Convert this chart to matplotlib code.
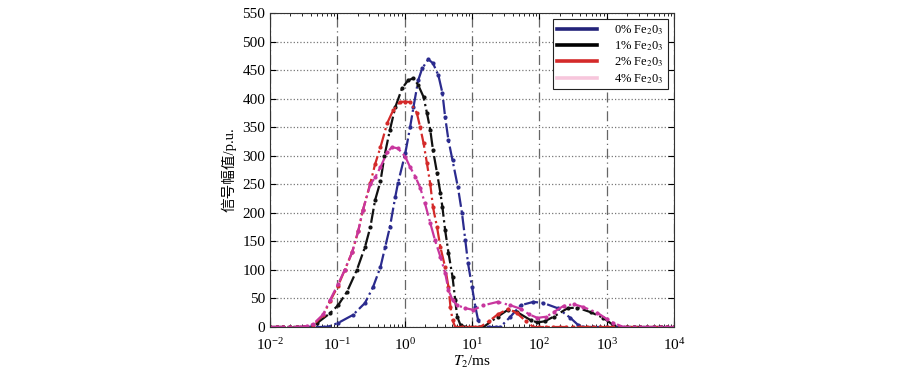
import numpy as np
import matplotlib
matplotlib.use("Agg")
import matplotlib.pyplot as plt
from matplotlib.lines import Line2D

plt.rcParams['font.family'] = ['Liberation Serif', 'Noto Sans CJK SC']
plt.rcParams['mathtext.fontset'] = 'stix'

# T2 readings as log10(ms), amplitudes in p.u.
lg_0 = [-2.0, -1.9, -1.8, -1.7, -1.6, -1.5, -1.4, -1.3, -1.2, -1.15, -0.99, -0.77, -0.59, -0.47,
        -0.36, -0.29, -0.22, -0.14, -0.10, 0.01, 0.08, 0.13, 0.20, 0.26, 0.35, 0.42, 0.50,
        0.56, 0.60, 0.65, 0.71, 0.79, 0.85, 0.90, 0.94, 1.00, 1.05, 1.09, 1.15, 1.25, 1.35,
        1.42, 1.57, 1.72, 1.91, 2.06, 2.27, 2.46, 2.58, 2.65, 2.8, 2.9, 3.0, 3.1, 3.2, 3.3,
        3.4, 3.5, 3.6, 3.7, 3.8, 3.9, 4.0]
amp_0 = [0, 0, 0, 0, 0, 0, 0, 0, 0, 0, 7, 21, 42, 70,
         105, 140, 175, 228, 252, 305, 350, 385, 432, 453, 469, 462, 441,
         410, 368, 327, 292, 245, 200, 152, 112, 70, 35, 12, 0, 0, 0,
         0, 18, 38, 44, 42, 33, 16, 3, 0, 0, 0, 0, 0, 0, 0,
         0, 0, 0, 0, 0, 0, 0]

lg_1 = [-2.0, -1.9, -1.8, -1.7, -1.6, -1.5, -1.45, -1.30, -1.11, -0.99, -0.86, -0.71, -0.59,
        -0.51, -0.44, -0.36, -0.30, -0.22, -0.14, -0.04, 0.05, 0.13, 0.20, 0.28, 0.33, 0.38,
        0.42, 0.48, 0.53, 0.56, 0.60, 0.65, 0.71, 0.75, 0.78, 0.83, 0.9, 1.0, 1.1, 1.17, 1.38,
        1.53, 1.67, 1.87, 1.97, 2.08, 2.21, 2.42, 2.56, 2.76, 2.95, 3.10, 3.2, 3.3, 3.4, 3.5,
        3.6, 3.7, 3.8, 3.9, 4.0]
amp_1 = [0, 0, 0, 0, 0, 0, 0, 7, 24, 38, 61, 100, 140,
         175, 222, 255, 300, 345, 385, 418, 432, 436, 424, 403, 375, 345,
         310, 270, 235, 210, 170, 130, 88, 47, 18, 3, 0, 0, 0, 0, 18,
         30, 26, 12, 8, 10, 18, 33, 34, 26, 16, 3, 0, 0, 0, 0,
         0, 0, 0, 0, 0]

lg_2 = [-2.0, -1.9, -1.8, -1.7, -1.6, -1.5, -1.36, -1.21, -1.11, -0.99, -0.89, -0.78, -0.69,
        -0.62, -0.51, -0.44, -0.36, -0.26, -0.17, -0.07, 0.0, 0.08, 0.18, 0.23, 0.28, 0.33,
        0.38, 0.42, 0.48, 0.53, 0.60, 0.65, 0.68, 0.71, 0.75, 0.85, 0.95, 1.05, 1.12, 1.25,
        1.38, 1.54, 1.67, 1.80, 1.91, 2.0, 2.1, 2.2, 2.3, 2.4, 2.5, 2.6, 2.7, 2.8, 2.9, 3.0,
        3.1, 3.2, 3.3, 3.4, 3.5, 3.6, 3.7, 3.8, 3.9, 4.0]
amp_2 = [0, 0, 0, 0, 0, 0, 3, 21, 45, 72, 100, 131, 168,
         205, 252, 285, 315, 357, 380, 394, 395, 394, 375, 350, 322, 287,
         250, 210, 175, 140, 105, 70, 35, 12, 0, 0, 0, 0, 0, 10,
         22, 32, 24, 10, 0, 0, 0, 0, 0, 0, 0, 0, 0, 0, 0, 0,
         0, 0, 0, 0, 0, 0, 0, 0, 0, 0]

lg_4 = [-2.0, -1.9, -1.8, -1.7, -1.6, -1.55, -1.45, -1.36, -1.21, -1.11, -0.99, -0.89, -0.78,
        -0.69, -0.62, -0.51, -0.44, -0.36, -0.26, -0.19, -0.10, 0.01, 0.08, 0.16, 0.23, 0.30,
        0.38, 0.45, 0.53, 0.60, 0.65, 0.71, 0.78, 0.90, 1.02, 1.17, 1.38, 1.57, 1.72, 1.85,
        1.97, 2.10, 2.21, 2.36, 2.51, 2.65, 2.86, 3.00, 3.10, 3.25, 3.4, 3.5, 3.6, 3.7, 3.8,
        3.9, 4.0]
amp_4 = [0, 0, 0, 0, 0, 0, 2, 5, 22, 47, 75, 100, 131,
         168, 205, 250, 262, 280, 306, 315, 313, 298, 280, 263, 244, 217,
         182, 152, 123, 95, 65, 47, 38, 33, 30, 38, 44, 38, 32, 22,
         16, 18, 26, 37, 40, 35, 25, 14, 7, 0, 0, 0, 0, 0, 0,
         0, 0]

labels = ['0% Fe$_2$0$_3$', '1% Fe$_2$0$_3$', '2% Fe$_2$0$_3$', '4% Fe$_2$0$_3$']
line_colors = ['#2b2b8e', '#111111', '#d42a2a', '#c8369e']
legend_colors = ['#23237a', '#000000', '#d42a2a', '#f7c6dc']

fig = plt.figure(figsize=(9, 3.76), dpi=100)
ax = fig.add_axes([0.3, 0.1303, 0.449, 0.835])

series = [(lg_0, amp_0), (lg_1, amp_1), (lg_2, amp_2), (lg_4, amp_4)]
for (lg, amp), c in zip(series, line_colors):
    ax.plot(10 ** np.array(lg), amp, linestyle='-.', color=c, lw=1.6,
            marker='.', markersize=4)

ax.set_xscale('log')
ax.set_xlim(1e-2, 1e4)
ax.set_ylim(0, 550)
ax.set_yticks(np.arange(0, 551, 50))

ax.xaxis.grid(True, which='major', linestyle=(0, (8, 3, 1, 3)), color='#666666', lw=0.9)
ax.yaxis.grid(True, which='major', linestyle=':', color='#777777', lw=0.9)

ax.tick_params(which='both', direction='in', top=True, right=True, labelsize=11)
ax.tick_params(which='major', length=4)
ax.tick_params(which='minor', length=2.5)
ax.tick_params(axis='x', which='major', pad=7)
for s in ax.spines.values():
    s.set_color('#333333')
    s.set_linewidth(0.8)

ax.set_xlabel('$T_2$/ms', fontsize=11, labelpad=1)
ax.set_ylabel('信号幅值/p.u.', fontsize=10.5, labelpad=4)

handles = [Line2D([], [], color=c, lw=2.6) for c in legend_colors]
leg = ax.legend(handles, labels, loc='upper right', fontsize=9, frameon=True,
                fancybox=False, handlelength=3.2, handletextpad=1.4, borderpad=0.3,
                labelspacing=0.2, borderaxespad=0.5)
leg.get_frame().set_edgecolor('#222222')
leg.get_frame().set_linewidth(0.8)
leg.get_frame().set_alpha(1)

fig.savefig('out.png', dpi=100)
